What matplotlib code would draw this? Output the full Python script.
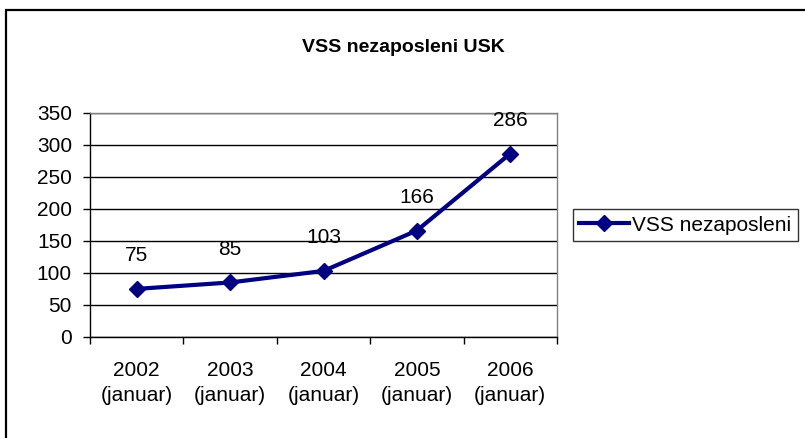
import matplotlib.pyplot as plt
from matplotlib.patches import Rectangle

years = ['2002', '2003', '2004', '2005', '2006']
month = '(januar)'
values = [75, 85, 103, 166, 286]
series_name = 'VSS nezaposleni'
title = 'VSS nezaposleni USK'
y_ticks = [0, 50, 100, 150, 200, 250, 300, 350]

plt.rcParams['font.family'] = ['Liberation Sans', 'DejaVu Sans']
fs = 15

fig = plt.figure(figsize=(8.05, 4.38), dpi=100)
ax = fig.add_axes([90 / 805, 101 / 438, 467 / 805, 224.5 / 438])

x = list(range(len(years)))
line, = ax.plot(x, values, color='#000080', linewidth=3, marker='D', markersize=8,
                label=series_name, zorder=3)

for xi, v in zip(x, values):
	ax.annotate(str(v), (xi, v), xytext=(0, 24), textcoords='offset points',
	            ha='center', va='center', fontsize=fs, color='black')

ax.set_xlim(-0.5, len(years) - 0.5)
ax.set_ylim(0, 350)
ax.set_yticks(y_ticks)
ax.set_xticks(x)
ax.set_xticklabels([f'{y}\n{month}' for y in years], fontsize=fs, linespacing=1.45)
ax.set_xticks([i - 0.5 for i in range(len(years) + 1)], minor=True)
ax.tick_params(axis='x', which='major', length=0, pad=17)
ax.tick_params(axis='x', which='minor', length=5, width=1, direction='out')
ax.tick_params(axis='y', length=5, width=1, direction='out', labelsize=fs, pad=8)

ax.yaxis.grid(True, color='black', linewidth=1)
ax.set_axisbelow(True)
for side in ['top', 'right']:
	ax.spines[side].set_color('#808080')
	ax.spines[side].set_linewidth(1)
for side in ['left', 'bottom']:
	ax.spines[side].set_color('black')
	ax.spines[side].set_linewidth(1)

fig.text(403 / 805, 1 - 47 / 438, title, ha='center', va='center',
         fontsize=14, fontweight='bold')

leg = fig.legend(handles=[line], loc='center left', bbox_to_anchor=(573 / 805, 1 - 225 / 438),
                 fontsize=fs, frameon=True, fancybox=False, edgecolor='black',
                 borderpad=0.3, handlelength=2.4, handletextpad=0.15, borderaxespad=0)
leg.get_frame().set_linewidth(1)

fig.patches.append(Rectangle((6 / 805, -0.1), 1.2, 1 - 10 / 438 + 0.1, transform=fig.transFigure,
                             fill=False, edgecolor='black', linewidth=1.6))

fig.savefig('out.png', dpi=100)
